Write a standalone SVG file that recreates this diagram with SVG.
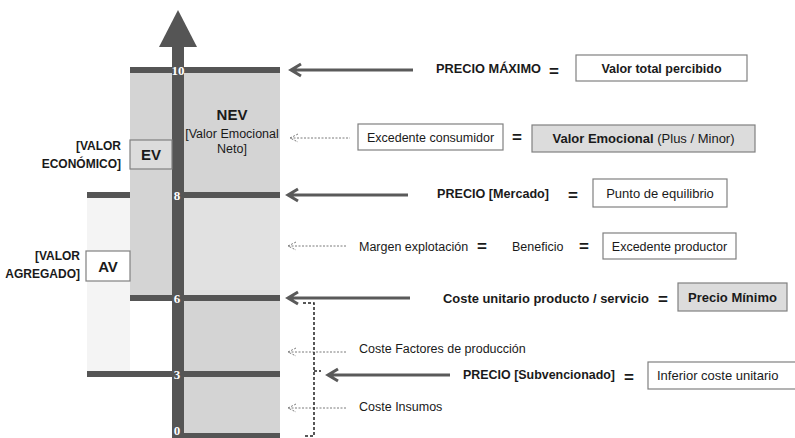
<svg xmlns="http://www.w3.org/2000/svg" width="795" height="438" viewBox="0 0 795 438">
<defs>
<style>
text{font-family:"Liberation Sans",Arial,sans-serif;fill:#1a1a1a}
.b{font-weight:bold}
.r12{font-size:12.5px}
.b13{font-size:13px;font-weight:bold}
.eq{font-size:17px;font-weight:bold;text-anchor:middle}
.num{font-family:"Liberation Serif","Times New Roman",serif;font-weight:bold;font-size:13px;fill:#ffffff;text-anchor:middle}
.bar{fill:#555555}
.box{fill:#ffffff;stroke:#808080;stroke-width:1.2}
.gbox{fill:#dcdcdc;stroke:#808080;stroke-width:1.2}
.solid{stroke:#5a5a5a;stroke-width:3;fill:none}
.dot{stroke:#7a7a7a;stroke-width:1;fill:none;stroke-dasharray:2 1.5}
.brk{stroke:#222222;stroke-width:1.5;fill:none;stroke-dasharray:3 2}
</style>
</defs>
<rect width="795" height="438" fill="#ffffff"/>
<g id="bands">
<rect x="87" y="195" width="43" height="178" fill="#f4f4f4"/>
<rect x="130" y="70" width="150" height="228" fill="#d4d4d4"/>
<rect x="184" y="195" width="96" height="103" fill="#e1e1e1"/>
<rect x="184" y="298" width="96" height="138" fill="#d4d4d4"/>
</g>
<g id="levels">
<rect class="bar" x="130" y="67" width="150" height="6"/>
<rect class="bar" x="87" y="192" width="43" height="6"/>
<rect class="bar" x="184" y="192" width="96" height="6"/>
<rect class="bar" x="130" y="295" width="150" height="6"/>
<rect class="bar" x="87" y="371" width="193" height="6"/>
<rect class="bar" x="172" y="433" width="108" height="5"/>
</g>
<g id="axis">
<rect class="bar" x="172" y="46" width="12" height="392"/>
<polygon class="bar" points="178,10 159,47 197,47"/>
<text class="num" x="178" y="74.5">10</text>
<text class="num" x="177" y="199.5">8</text>
<text class="num" x="177" y="302.5">6</text>
<text class="num" x="177" y="378.5">3</text>
<text class="num" x="177" y="435">0</text>
</g>
<g id="nev">
<text class="b" x="232" y="120" font-size="15" text-anchor="middle">NEV</text>
<text x="232" y="138" font-size="12.5" text-anchor="middle">[Valor Emocional</text>
<text x="232" y="153" font-size="12.5" text-anchor="middle">Neto]</text>
</g>
<g id="ev">
<rect class="gbox" x="130" y="140" width="42" height="29" fill="#d4d4d4"/>
<text class="b" x="151" y="160" font-size="15" text-anchor="middle">EV</text>
<text class="b" x="121" y="149.5" font-size="12" text-anchor="end">[VALOR</text>
<text class="b" x="121" y="167.5" font-size="12" text-anchor="end">ECONÓMICO]</text>
</g>
<g id="av">
<rect class="box" x="86" y="251" width="44" height="30"/>
<text class="b" x="108" y="272" font-size="15" text-anchor="middle">AV</text>
<text class="b" x="80" y="259.5" font-size="12" text-anchor="end">[VALOR</text>
<text class="b" x="80" y="277.5" font-size="12" text-anchor="end">AGREGADO]</text>
</g>
<g id="connectors">
<path class="solid" d="M291,70 H413 M301,64 L291,70 L301,76"/>
<path class="solid" d="M288,195 H408 M298,189 L288,195 L298,201"/>
<path class="solid" d="M288,298 H410 M298,292 L288,298 L298,304"/>
<path class="solid" d="M328,375 H450 M338,369 L328,375 L338,381"/>
<path class="dot" d="M290,138 H350 M298,134 L290,138 L298,142"/>
<path class="dot" d="M288,246 H346 M296,242 L288,246 L296,250"/>
<path class="dot" d="M288,352 H346 M296,348 L288,352 L296,356"/>
<path class="dot" d="M288,408 H346 M296,404 L288,408 L296,412"/>
<path class="brk" d="M303,303 H314 V436 H305 M314,371 H321"/>
</g>
<g id="precio-maximo">
<text class="b13" x="436" y="73" textLength="105" lengthAdjust="spacingAndGlyphs">PRECIO MÁXIMO</text>
<text class="eq" x="554" y="77">=</text>
<rect class="box" x="576" y="55" width="171" height="26"/>
<text class="b" x="661.5" y="72.5" font-size="12.5" text-anchor="middle">Valor total percibido</text>
</g>
<g id="excedente-consumidor">
<rect class="box" x="358" y="124" width="145" height="26"/>
<text class="r12" x="430.5" y="141.5" text-anchor="middle">Excedente consumidor</text>
<text class="eq" x="517" y="143">=</text>
<rect class="gbox" x="532" y="125" width="223" height="27"/>
<text x="643.5" y="143" font-size="13" text-anchor="middle"><tspan font-weight="bold">Valor Emocional</tspan> (Plus / Minor)</text>
</g>
<g id="precio-mercado">
<text class="b13" x="437" y="197.5" textLength="112" lengthAdjust="spacingAndGlyphs">PRECIO [Mercado]</text>
<text class="eq" x="573" y="201">=</text>
<rect class="box" x="593" y="179" width="134" height="28"/>
<text x="660" y="197.5" font-size="13" text-anchor="middle">Punto de equilibrio</text>
</g>
<g id="margen">
<text class="r12" x="359" y="250.5">Margen explotación</text>
<text class="eq" x="482" y="252">=</text>
<text class="r12" x="512" y="250.5">Beneficio</text>
<text class="eq" x="584" y="252">=</text>
<rect class="box" x="603" y="233" width="133" height="26"/>
<text class="r12" x="669.5" y="250.5" text-anchor="middle">Excedente productor</text>
</g>
<g id="coste-unitario">
<text class="b13" x="443" y="302.5" textLength="206" lengthAdjust="spacingAndGlyphs">Coste unitario producto / servicio</text>
<text class="eq" x="663" y="305">=</text>
<rect class="gbox" x="678" y="283" width="109" height="28"/>
<text class="b" x="732.5" y="301.5" font-size="13" text-anchor="middle">Precio Mínimo</text>
</g>
<g id="coste-factores">
<text class="r12" x="359" y="353">Coste Factores de producción</text>
</g>
<g id="precio-subvencionado">
<text class="b13" x="463" y="379" textLength="152" lengthAdjust="spacingAndGlyphs">PRECIO [Subvencionado]</text>
<text class="eq" x="629" y="383">=</text>
<rect class="box" x="648" y="362" width="160" height="27"/>
<text x="657" y="380" font-size="13">Inferior coste unitario</text>
</g>
<g id="coste-insumos">
<text class="r12" x="359" y="411">Coste Insumos</text>
</g>
</svg>
